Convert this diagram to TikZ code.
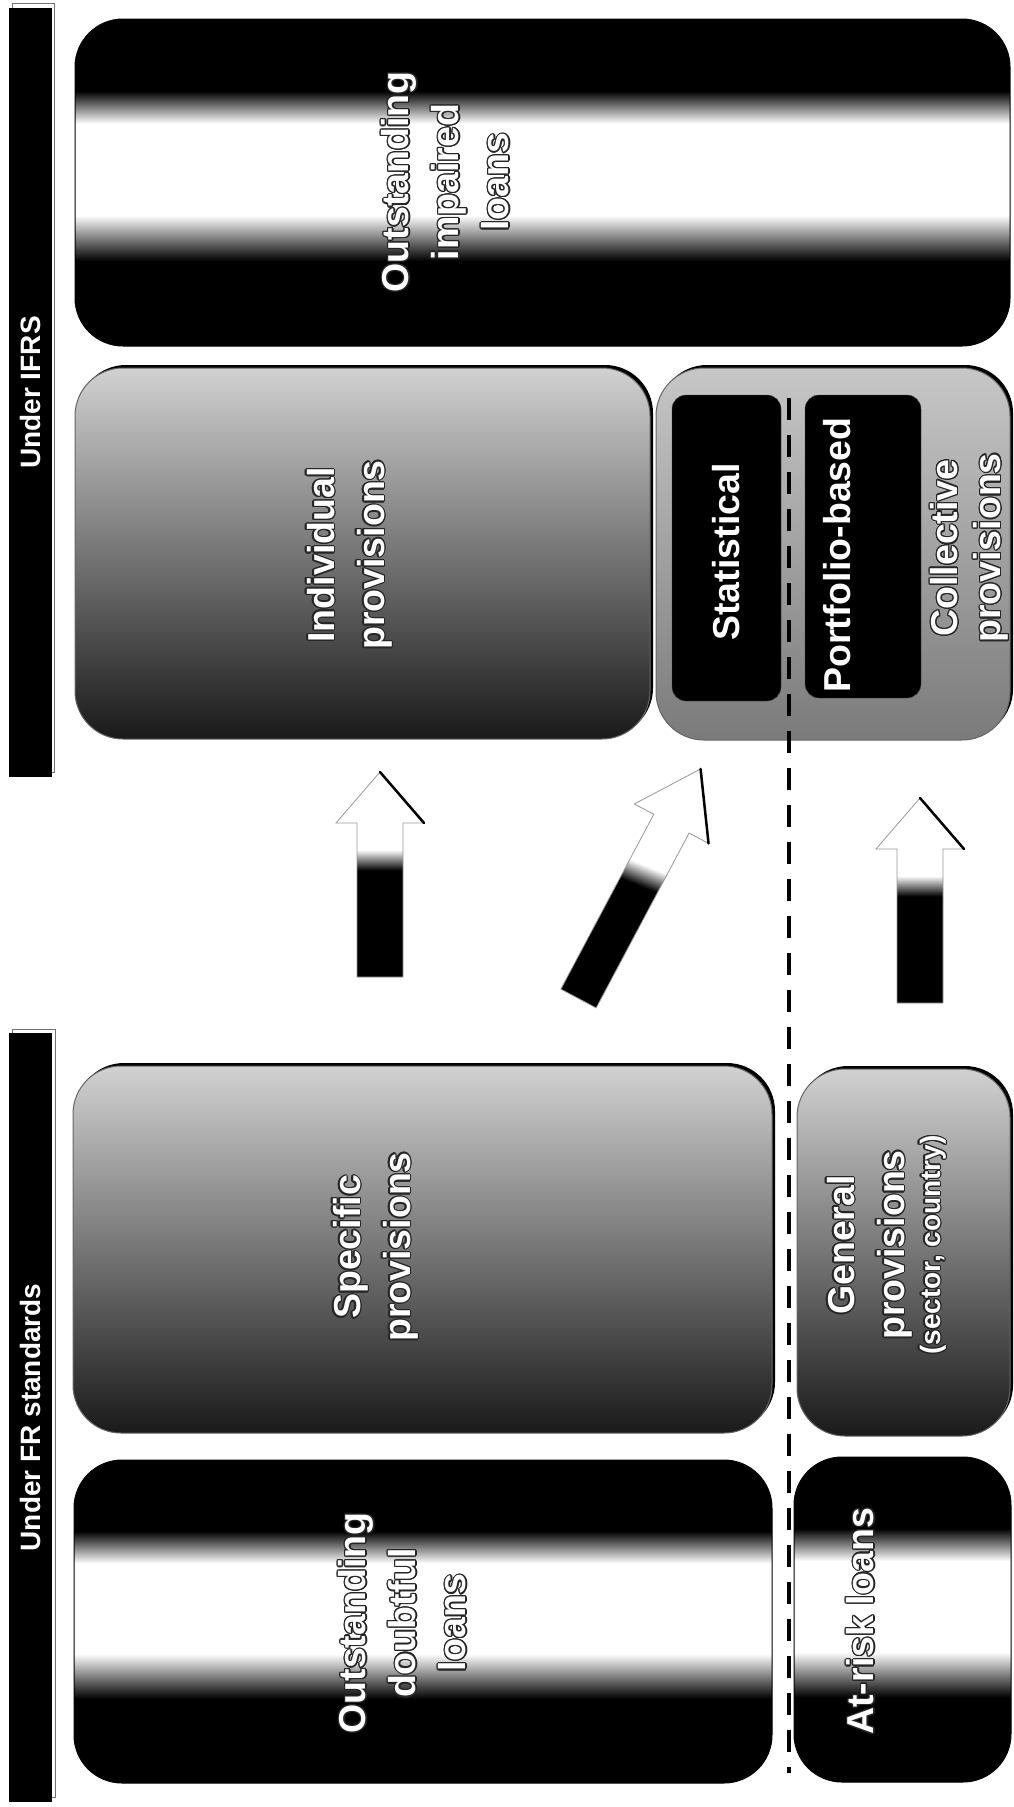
\documentclass[tikz,border=0pt]{standalone}
\usepackage{fontspec}
\setmainfont{Liberation Sans}
\usepackage[copies]{contour}
\usetikzlibrary{shadows}
\contourlength{1.2pt}
\contournumber{16}

\pgfdeclareverticalshading{loanband}{100bp}{color(0bp)=(black); color(38bp)=(black); color(45bp)=(white); color(59bp)=(white); color(64bp)=(black); color(100bp)=(black)}
\pgfdeclareverticalshading{arrowfade}{100bp}{color(0bp)=(black); color(51bp)=(black); color(56bp)=(white); color(100bp)=(white)}

\newcommand{\wline}[1]{\contour{black!85}{#1}}

\begin{document}
\begin{tikzpicture}[x=1pt, y=-1pt,
    headbar/.style={fill=black, text=white, rotate=90, inner sep=0, font=\fontsize{28}{34}\selectfont\bfseries},
    barframe/.style={draw=black!55, line width=0.8},
    loanbox/.style={shading=loanband, draw=black, line width=1, rounded corners=48, inner sep=0},
    provbox/.style={top color=black!18, bottom color=black!90, draw=black!60, line width=1, rounded corners=48, inner sep=0,
        drop shadow={shadow xshift=3pt, shadow yshift=3pt, opacity=1, fill=black}},
    collbox/.style={provbox, top color=black!22, bottom color=black!52},
    blackbox/.style={fill=black, draw=black!70, rounded corners=14, inner sep=0},
    lbl/.style={text=white, rotate=90, align=center, inner sep=0, font=\fontsize{37.5}{50}\selectfont\bfseries},
    fadearrow/.style={shading=arrowfade, draw=black!40, line width=0.8},
    headedge/.style={line width=2.5, line cap=round},
    divider/.style={line width=4.5, dash pattern=on 22pt off 15pt}
]

\useasboundingbox[fill=white] (0,0) rectangle (1013,1807);

% under IFRS
\draw[barframe] (12,3) rectangle (54,772);
\node[headbar, minimum width=769, minimum height=43] (ifrsbar) at (30.5,392.5) {Under IFRS};

\node[loanbox, minimum width=935, minimum height=327] (impaired) at (542.5,182.5) {};
\node[lbl] (impairedtxt) at (446,182) {\wline{Outstanding}\\\wline{impaired}\\\wline{loans}};

\node[provbox, minimum width=575, minimum height=371] (indiv) at (362.5,553.5) {};
\node[lbl] (indivtxt) at (350,555) {\wline{Individual}\\\wline{provisions}};

\node[collbox, minimum width=354, minimum height=372] (collect) at (833,554) {};
\node[blackbox, minimum width=109, minimum height=306] (statbox) at (726.5,548) {};
\node[blackbox, minimum width=116, minimum height=303] (portbox) at (863,546.5) {};
\node[lbl] (stattxt) at (726,552) {Statistical};
\node[lbl] (porttxt) at (837,555) {Portfolio-based};
\node[lbl] (collecttxt) at (970,548) {\wline{Collective}\\[-7pt]\wline{provisions}};

% under FR standards
\draw[barframe] (12,1029) rectangle (55,1797);
\node[headbar, minimum width=769, minimum height=43] (frbar) at (30.5,1417.5) {Under FR standards};

\node[provbox, minimum width=699, minimum height=367] (specific) at (422.5,1249.5) {};
\node[lbl] (specifictxt) at (376,1247) {\wline{Specific}\\\wline{provisions}};

\node[provbox, minimum width=213, minimum height=367] (general) at (903.5,1252.5) {};
\node[lbl] (generaltxt) at (887,1245) {\wline{General}\\\wline{provisions}\\[-14pt]{\fontsize{28}{34}\selectfont\wline{(sector, country)}}};

\node[loanbox, minimum width=698, minimum height=323] (doubtful) at (423,1621.5) {};
\node[lbl] (doubtfultxt) at (403,1623) {\wline{Outstanding}\\\wline{doubtful}\\\wline{loans}};

\node[loanbox, minimum width=217, minimum height=325] (atrisk) at (902.5,1619.5) {};
\node[lbl] (atrisktxt) at (861,1621) {\wline{At-risk loans}};

% arrows
\begin{scope}[shift={(380,977)}]
    \path[fadearrow] (-23,0) -- (-23,-154) -- (-44,-154) -- (0,-205) -- (44,-154) -- (23,-154) -- (23,0) -- cycle;
    \draw[headedge] (0,-205) -- (44,-154);
\end{scope}
\begin{scope}[shift={(578.5,998.5)}, rotate=-28]
    \path[fadearrow, shading angle=-22] (-20,0) -- (-20,-198) -- (-42,-198) -- (0,-260) -- (42,-198) -- (20,-198) -- (20,0) -- cycle;
    \draw[headedge] (0,-260) -- (42,-198);
\end{scope}
\begin{scope}[shift={(920,1003)}]
    \path[fadearrow] (-23,0) -- (-23,-154) -- (-44,-154) -- (0,-205) -- (44,-154) -- (23,-154) -- (23,0) -- cycle;
    \draw[headedge] (0,-205) -- (44,-154);
\end{scope}

\coordinate (divtop) at (789,398);
\coordinate (divbot) at (789,1773);
\draw[divider] (divtop) -- (divbot);

\end{tikzpicture}
\end{document}
